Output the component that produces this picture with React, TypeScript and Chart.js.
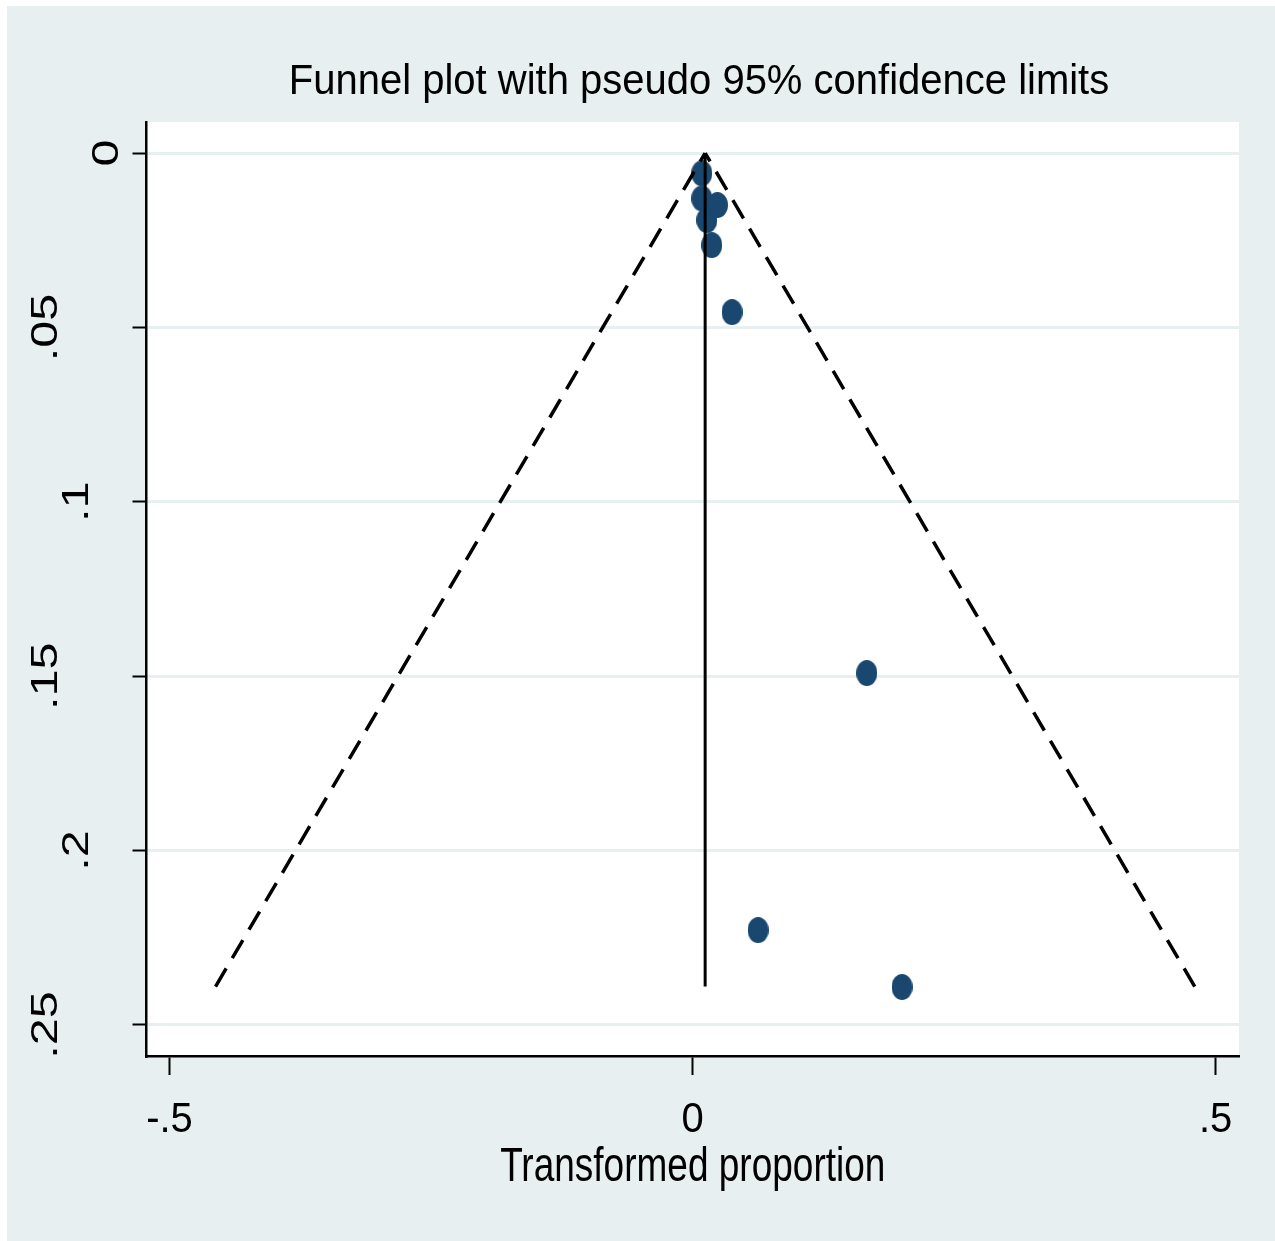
import React, { useEffect, useRef } from "react";
import { Chart, registerables } from "chart.js";

Chart.register(...registerables);

// ---- data ----
const TITLE = "Funnel plot with pseudo 95% confidence limits";
const X_TITLE = "Transformed proportion";

// study estimates: transformed proportion (x) and standard error (y)
const STUDY_X = [0.0088, 0.0088, 0.0237, 0.0136, 0.0183, 0.0377, 0.1665, 0.0626, 0.2002];
const STUDY_SE = [0.0058, 0.013, 0.0149, 0.0192, 0.0264, 0.0456, 0.1491, 0.2228, 0.2391];

// pooled estimate and pseudo 95% limits (end points)
const POOLED_X = [0.012, 0.012];
const POOLED_SE = [0, 0.239];
const LOWER_X = [-0.456, 0.012];
const LOWER_SE = [0.239, 0];
const UPPER_X = [0.480, 0.012];
const UPPER_SE = [0.239, 0];

const X_TICKS = [-0.5, 0, 0.5];
const X_TICK_LABELS = ["-.5", "0", ".5"];
const Y_TICKS = [0, 0.05, 0.1, 0.15, 0.2, 0.25];
const Y_TICK_LABELS = ["0", ".05", ".1", ".15", ".2", ".25"];

const X_MIN = -0.522;
const X_MAX = 0.5223;
const Y_MIN = -0.0089;
const Y_MAX = 0.2589;

const W = 1268;
const H = 1235;
const FONT = '"Liberation Sans", Arial, sans-serif';
const BG = "#e8eff1";
const NAVY = "#1a476f";

function pts(xs: number[], ys: number[]) {
  return xs.map((x, i) => ({ x, y: ys[i] }));
}

function makeMarker() {
  const c = document.createElement("canvas");
  const w = 21;
  const h = 26;
  c.width = w;
  c.height = h;
  const g = c.getContext("2d")!;
  g.fillStyle = NAVY;
  g.beginPath();
  g.ellipse(w / 2, h / 2, w / 2, h / 2, 0, 0, Math.PI * 2);
  g.fill();
  return c;
}

function drawText(
  ctx: CanvasRenderingContext2D,
  text: string,
  x: number,
  y: number,
  size: number,
  sx: number,
  sy: number,
  rot: number
) {
  ctx.save();
  ctx.translate(x, y);
  ctx.rotate(rot);
  ctx.scale(sx, sy);
  ctx.font = `${size}px ${FONT}`;
  ctx.fillStyle = "#000";
  ctx.textAlign = "center";
  ctx.textBaseline = "alphabetic";
  ctx.fillText(text, 0, 0);
  ctx.restore();
}

const textPlugin = {
  id: "textPlugin",
  beforeDraw(chart: any) {
    const { ctx, chartArea } = chart;
    ctx.save();
    ctx.fillStyle = BG;
    ctx.fillRect(0, 0, chart.width, chart.height);
    ctx.fillStyle = "#ffffff";
    ctx.fillRect(chartArea.left, chartArea.top, chartArea.right - chartArea.left, chartArea.bottom - chartArea.top);
    ctx.restore();
  },
  afterDraw(chart: any) {
    const { ctx, chartArea } = chart;
    const xs = chart.scales.x;
    const ys = chart.scales.y;
    // title
    drawText(ctx, TITLE, 692, 88, 40, 1, 1.07, 0);
    // x axis title
    drawText(ctx, X_TITLE, (chartArea.left + chartArea.right) / 2, 1175, 37, 1, 1.3, 0);
    // x tick labels
    X_TICKS.forEach((v, i) => {
      drawText(ctx, X_TICK_LABELS[i], xs.getPixelForValue(v), 1126, 40, 1, 1.05, 0);
    });
    // y tick labels (rotated, reading upward; longer labels sit further left, as in the reference)
    Y_TICKS.forEach((v, i) => {
      const lab = Y_TICK_LABELS[i];
      const bx = 111 - (lab.length - 1) * 30.5;
      drawText(ctx, lab, bx, ys.getPixelForValue(v), 36, 1.35, 1, -Math.PI / 2);
    });
  },
};

export default function App() {
  const ref = useRef<HTMLCanvasElement | null>(null);

  useEffect(() => {
    document.body.style.margin = "0";
    document.body.style.background = "#ffffff";
    const marker = makeMarker();
    const lineCommon = {
      type: "scatter" as const,
      showLine: true,
      borderColor: "#000",
      pointRadius: 0,
      pointHoverRadius: 0,
      fill: false,
    };
    const chart = new Chart(ref.current!, {
      type: "scatter",
      data: {
        datasets: [
          { ...lineCommon, data: pts(POOLED_X, POOLED_SE), borderWidth: 3 },
          { ...lineCommon, data: pts(LOWER_X, LOWER_SE), borderWidth: 3.5, borderDash: [21, 12] },
          { ...lineCommon, data: pts(UPPER_X, UPPER_SE), borderWidth: 3.5, borderDash: [21, 12] },
          {
            type: "scatter",
            data: pts(STUDY_X, STUDY_SE),
            pointStyle: marker as any,
            pointRadius: 11,
            backgroundColor: NAVY,
            borderColor: NAVY,
          },
        ],
      },
      options: {
        responsive: false,
        animation: false,
        layout: { padding: { top: 116, right: 36, left: 0, bottom: 0 } },
        plugins: {
          legend: { display: false },
          tooltip: { enabled: false },
          title: { display: false },
        },
        scales: {
          x: {
            type: "linear",
            min: X_MIN,
            max: X_MAX,
            afterBuildTicks: (s: any) => {
              s.ticks = X_TICKS.map((v) => ({ value: v }));
            },
            afterFit: (s: any) => {
              s.height = 185;
            },
            ticks: { display: false, autoSkip: false },
            grid: {
              drawOnChartArea: false,
              drawTicks: true,
              tickLength: 19,
              tickWidth: 2,
              tickColor: "#000",
              color: "#000",
            },
            border: { display: true, color: "#000", width: 2.5 },
          },
          y: {
            type: "linear",
            reverse: true,
            min: Y_MIN,
            max: Y_MAX,
            afterBuildTicks: (s: any) => {
              s.ticks = Y_TICKS.map((v) => ({ value: v }));
            },
            afterFit: (s: any) => {
              s.width = 139.5;
            },
            ticks: { display: false, autoSkip: false },
            grid: {
              drawOnChartArea: true,
              color: BG,
              lineWidth: 3,
              drawTicks: true,
              tickLength: 14,
              tickWidth: 2,
              tickColor: "#000",
            },
            border: { display: true, color: "#000", width: 2.5 },
          },
        },
      },
      plugins: [textPlugin],
    });
    return () => chart.destroy();
  }, []);

  return (
    <div style={{ padding: "6px 0 0 7px", background: "#fff" }}>
      <canvas ref={ref} width={W} height={H} style={{ display: "block", width: W, height: H }} />
    </div>
  );
}
